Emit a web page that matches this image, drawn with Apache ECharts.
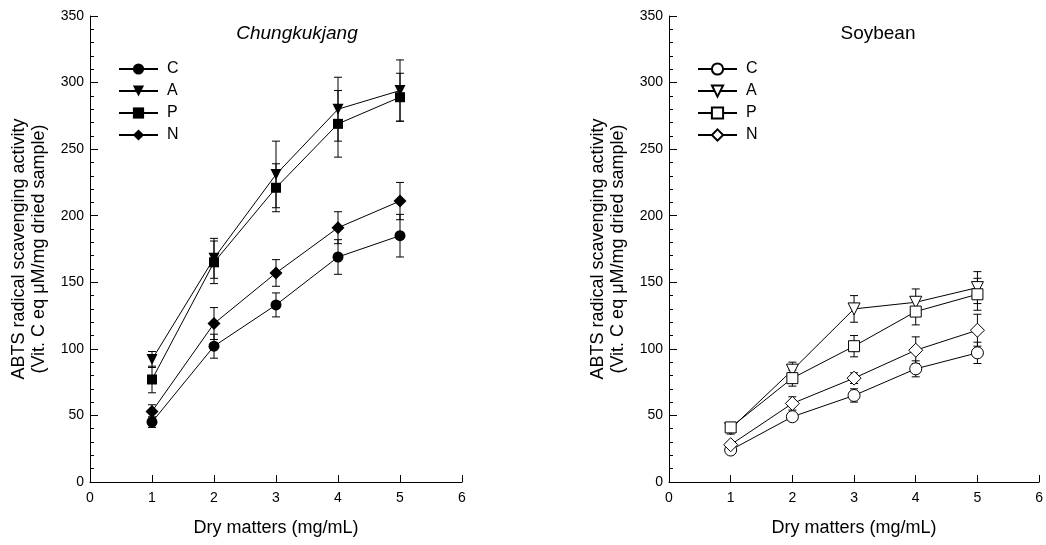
<!DOCTYPE html>
<html>
<head>
<meta charset="utf-8">
<title>ABTS radical scavenging activity</title>
<script src="https://cdn.jsdelivr.net/npm/echarts@6/dist/echarts.min.js"></script>
<style>
  html, body { margin: 0; padding: 0; background: #fff; }
  #main { width: 1046px; height: 545px; }
</style>
</head>
<body>
<div id="main"></div>
<script>
// dry matters (mg/mL)
const doses = [1, 2, 3, 4, 5]
const groups = ['C', 'A', 'P', 'N']

// Chungkukjang
const chungC = [45, 102, 133, 169, 185]
const chungA = [92, 168, 231, 280, 294]
const chungP = [77, 165, 221, 269, 289]
const chungN = [53, 119, 157, 191, 211]
const chungCErr = [4, 9, 9, 13, 16]
const chungAErr = [6, 15, 25, 24, 23]
const chungPErr = [10, 16, 18, 25, 18]
const chungNErr = [5, 12, 10, 12, 14]

// Soybean
const soyC = [24, 49, 65, 85, 97]
const soyA = [40, 84, 130, 135, 146]
const soyP = [41, 78, 102, 128, 141]
const soyN = [28, 59, 78, 99, 114]
const soyCErr = [2, 3, 5, 6, 8]
const soyAErr = [4, 6, 10, 10, 12]
const soyPErr = [3, 6, 8, 10, 12]
const soyNErr = [2, 5, 4, 10, 12]

const xTicks = [0, 1, 2, 3, 4, 5, 6]
const yTicks = [0, 50, 100, 150, 200, 250, 300, 350]

const FONT = 'Liberation Sans, Arial, sans-serif'

const symbols = {
  C: { symbol: 'circle', size: 11, rotate: 0 },
  A: { symbol: 'triangle', size: 11, rotate: 180 },
  P: { symbol: 'rect', size: 10, rotate: 0 },
  N: { symbol: 'diamond', size: 13, rotate: 0 }
}

function lineSeries(prefix, key, values, idx, open) {
  const s = symbols[key]
  return {
    name: prefix + ' ' + key,
    type: 'line',
    xAxisIndex: idx,
    yAxisIndex: idx,
    data: doses.map((d, i) => [d, values[i]]),
    symbol: s.symbol,
    symbolSize: open ? s.size + 1 : s.size,
    symbolRotate: s.rotate,
    showAllSymbol: true,
    z: 3,
    lineStyle: { color: '#000', width: 1 },
    itemStyle: open
      ? { color: '#fff', borderColor: '#000', borderWidth: 1 }
      : { color: '#000', borderColor: '#000', borderWidth: 0 }
  }
}

function errorSeries(values, errs, idx) {
  return {
    type: 'custom',
    xAxisIndex: idx,
    yAxisIndex: idx,
    silent: true,
    z: 2,
    data: doses.map((d, i) => [d, values[i], errs[i]]),
    encode: { x: 0, y: 1 },
    renderItem: function(params, api) {
      const x = api.value(0)
      const y = api.value(1)
      const e = api.value(2)
      const hi = api.coord([x, y + e])
      const lo = api.coord([x, y - e])
      const hw = 4
      const style = { stroke: '#000', lineWidth: 1 }
      return {
        type: 'group',
        children: [
          { type: 'line', shape: { x1: hi[0], y1: hi[1], x2: lo[0], y2: lo[1] }, style: style },
          { type: 'line', shape: { x1: hi[0] - hw, y1: hi[1], x2: hi[0] + hw, y2: hi[1] }, style: style },
          { type: 'line', shape: { x1: lo[0] - hw, y1: lo[1], x2: lo[0] + hw, y2: lo[1] }, style: style }
        ]
      }
    }
  }
}

function xAxis(idx) {
  return {
    type: 'value',
    gridIndex: idx,
    min: xTicks[0],
    max: xTicks[xTicks.length - 1],
    interval: 1,
    name: 'Dry matters (mg/mL)',
    nameLocation: 'middle',
    nameGap: 37,
    nameTextStyle: { fontSize: 18, color: '#000', fontFamily: FONT },
    axisLine: { show: true, lineStyle: { color: '#000', width: 1 } },
    axisTick: { show: true, inside: true, length: 7, lineStyle: { color: '#000' } },
    axisLabel: { fontSize: 14, color: '#000', margin: 9, fontFamily: FONT },
    splitLine: { show: false }
  }
}

function yAxis(idx) {
  return {
    type: 'value',
    gridIndex: idx,
    min: yTicks[0],
    max: yTicks[yTicks.length - 1],
    interval: 50,
    name: 'ABTS radical scavenging activity\n(Vit. C eq μM/mg dried sample)',
    nameLocation: 'middle',
    nameGap: 41,
    nameTextStyle: { fontSize: 18, lineHeight: 20, color: '#000', fontFamily: FONT },
    axisLine: { show: true, lineStyle: { color: '#000', width: 1 } },
    axisTick: { show: true, inside: true, length: 8, lineStyle: { color: '#000' } },
    minorTick: { show: true, splitNumber: 5, length: 4, lineStyle: { color: '#000' } },
    axisLabel: { fontSize: 14, color: '#000', margin: 6, fontFamily: FONT },
    splitLine: { show: false }
  }
}

function legend(prefix, left) {
  return {
    orient: 'vertical',
    left: left,
    top: 61,
    padding: 0,
    itemWidth: 39,
    itemHeight: 14,
    itemGap: 6,
    selectedMode: false,
    data: groups.map(k => prefix + ' ' + k),
    formatter: name => name.slice(-1),
    textStyle: { fontSize: 16, lineHeight: 16, color: '#000', fontFamily: FONT, padding: [0, 0, 0, 4] }
  }
}

const chart = echarts.init(document.getElementById('main'))
chart.setOption({
  animation: false,
  backgroundColor: '#fff',
  title: [
    {
      text: 'Chungkukjang',
      left: 292,
      top: 19,
      textAlign: 'center',
      textStyle: { fontSize: 19, fontStyle: 'italic', fontWeight: 'normal', color: '#000', fontFamily: FONT }
    },
    {
      text: 'Soybean',
      left: 873,
      top: 19,
      textAlign: 'center',
      textStyle: { fontSize: 19, fontWeight: 'normal', color: '#000', fontFamily: FONT }
    }
  ],
  legend: [legend('Chungkukjang', 118), legend('Soybean', 697)],
  grid: [
    { left: 90, top: 16, width: 372, height: 466 },
    { left: 669, top: 16, width: 371, height: 466 }
  ],
  xAxis: [xAxis(0), xAxis(1)],
  yAxis: [yAxis(0), yAxis(1)],
  series: [
    errorSeries(chungC, chungCErr, 0),
    errorSeries(chungA, chungAErr, 0),
    errorSeries(chungP, chungPErr, 0),
    errorSeries(chungN, chungNErr, 0),
    lineSeries('Chungkukjang', 'C', chungC, 0, false),
    lineSeries('Chungkukjang', 'A', chungA, 0, false),
    lineSeries('Chungkukjang', 'P', chungP, 0, false),
    lineSeries('Chungkukjang', 'N', chungN, 0, false),
    errorSeries(soyC, soyCErr, 1),
    errorSeries(soyA, soyAErr, 1),
    errorSeries(soyP, soyPErr, 1),
    errorSeries(soyN, soyNErr, 1),
    lineSeries('Soybean', 'C', soyC, 1, true),
    lineSeries('Soybean', 'A', soyA, 1, true),
    lineSeries('Soybean', 'P', soyP, 1, true),
    lineSeries('Soybean', 'N', soyN, 1, true)
  ]
})
</script>
</body>
</html>
